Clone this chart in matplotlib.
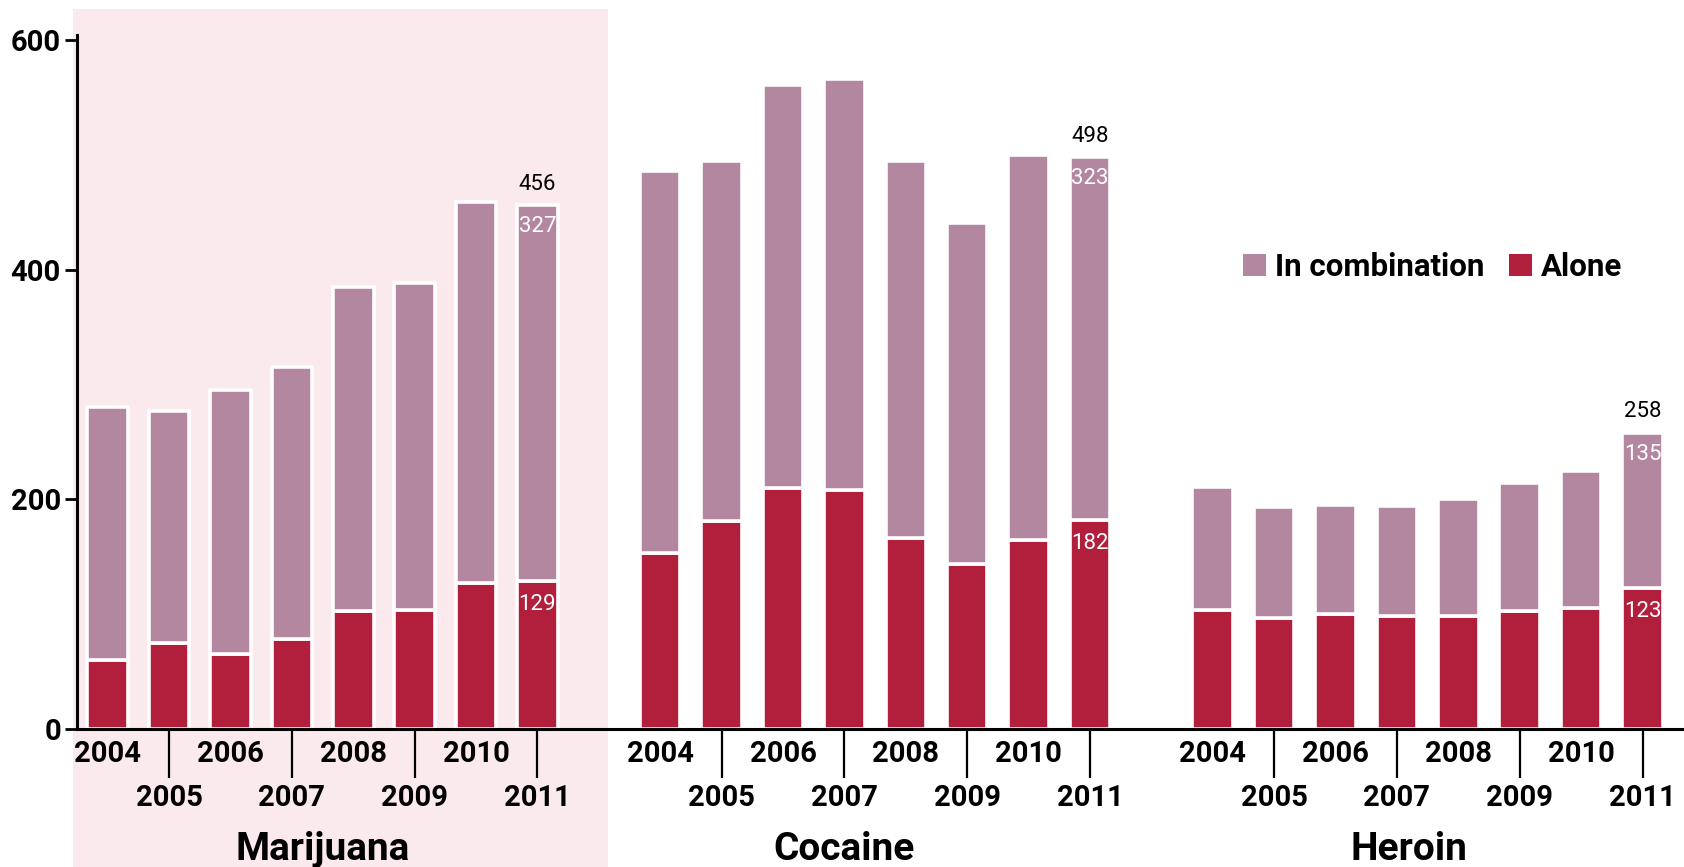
import numpy as np
import matplotlib
matplotlib.use("Agg")
import matplotlib.pyplot as plt
from matplotlib.patches import Rectangle
from matplotlib.transforms import blended_transform_factory

plt.rcParams["font.family"] = ["Roboto", "DejaVu Sans"]

years = ["2004", "2005", "2006", "2007", "2008", "2009", "2010", "2011"]
drugs = ["Marijuana", "Cocaine", "Heroin"]

marijuana_total = [280, 277, 295, 315, 385, 388, 459, 456]
marijuana_alone = [60, 75, 65, 78, 103, 104, 127, 129]
cocaine_total = [486, 495, 561, 566, 495, 441, 500, 498]
cocaine_alone = [153, 181, 210, 208, 166, 144, 165, 182]
heroin_total = [211, 193, 195, 194, 200, 214, 225, 258]
heroin_alone = [104, 97, 100, 98, 98, 103, 105, 123]

# labels printed on the 2011 bars
label_total = [456, 498, 258]
label_comb = [327, 323, 135]
label_alone = [129, 182, 123]

c_comb = "#b3879f"
c_alone = "#b21f3d"
c_shade = "#fae9ed"

W, H = 1684, 867
fig = plt.figure(figsize=(W / 100, H / 100), dpi=100)
ax = fig.add_axes([77 / W, 1 - 729 / H, 1 - 77 / W, 720 / H])
ax.patch.set_visible(False)

totals = [marijuana_total, cocaine_total, heroin_total]
alones = [marijuana_alone, cocaine_alone, heroin_alone]
stride = len(years) + 1
bw = 0.66

all_x = []
all_lab = []
for g in range(3):
    x = np.arange(len(years)) + g * stride
    tot = np.array(totals[g])
    alo = np.array(alones[g])
    ax.bar(x, alo, bw, color=c_alone, edgecolor="white", linewidth=2.6, zorder=2,
           label="Alone" if g == 0 else None)
    ax.bar(x, tot - alo, bw, bottom=alo, color=c_comb, edgecolor="white", linewidth=2.6,
           zorder=2, label="In combination" if g == 0 else None)
    xl = x[-1]
    ax.annotate(str(label_total[g]), (xl, tot[-1]), xytext=(0, 15), textcoords="offset points",
                ha="center", va="center", fontsize=16, color="black")
    ax.annotate(str(label_comb[g]), (xl, tot[-1]), xytext=(0, -15.5), textcoords="offset points",
                ha="center", va="center", fontsize=16, color="white", zorder=3)
    ax.annotate(str(label_alone[g]), (xl, alo[-1]), xytext=(0, -17), textcoords="offset points",
                ha="center", va="center", fontsize=16, color="white", zorder=3)
    all_x += list(x)
    all_lab += years

all_x = np.array(all_x)
ax.set_xlim(-0.5, (W - 107.5) / 61.4)
ax.set_ylim(0, 627)

# shaded Marijuana panel, reaching down past the axis
tr = blended_transform_factory(ax.transData, fig.transFigure)
ax.add_patch(Rectangle((-0.57, 0), 8.72, 1 - 9 / H, transform=tr, facecolor=c_shade,
                       edgecolor="none", clip_on=False, zorder=0))

# group names
name_x = [3.5, 12.0, 21.2]
for nm, gx in zip(drugs, name_x):
    ax.text(gx, 1 - 860 / H, nm, transform=tr, ha="center", va="baseline",
            fontsize=28, fontweight="bold")

# staggered year labels: odd years get a long tick and sit lower
odd = [i for i in range(len(all_x)) if int(all_lab[i]) % 2 == 1]
even = [i for i in range(len(all_x)) if int(all_lab[i]) % 2 == 0]
ax.set_xticks(all_x[odd], [all_lab[i] for i in odd])
ax.set_xticks(all_x[even], [all_lab[i] for i in even], minor=True)
ax.tick_params(axis="x", which="major", length=35, width=1.6, pad=4.5, labelsize=21)
ax.tick_params(axis="x", which="minor", length=0, pad=8, labelsize=21)
for lab in ax.get_xticklabels(which="both"):
    lab.set_fontweight("bold")

ax.set_yticks([0, 200, 400, 600])
ax.tick_params(axis="y", length=8.6, width=2, pad=3, labelsize=21)
for lab in ax.get_yticklabels():
    lab.set_fontweight("bold")

for s in ["top", "right"]:
    ax.spines[s].set_visible(False)
ax.spines["left"].set_bounds(0, 604)
ax.spines["left"].set_linewidth(2.2)
ax.spines["bottom"].set_linewidth(2.2)
ax.spines["bottom"].set_zorder(3)

handles, labels = ax.get_legend_handles_labels()
order = [1, 0]
leg = fig.legend([handles[i] for i in order], [labels[i] for i in order],
                 loc="center left", bbox_to_anchor=(1243 / W, 1 - 267 / H), ncol=2,
                 frameon=False, prop={"weight": "bold", "size": 22.5},
                 handlelength=0.72, handleheight=0.72, handletextpad=0.3,
                 columnspacing=0.8, borderpad=0, borderaxespad=0)
for p in leg.get_patches():
    p.set_edgecolor("none")

fig.savefig("out.png", dpi=100)
